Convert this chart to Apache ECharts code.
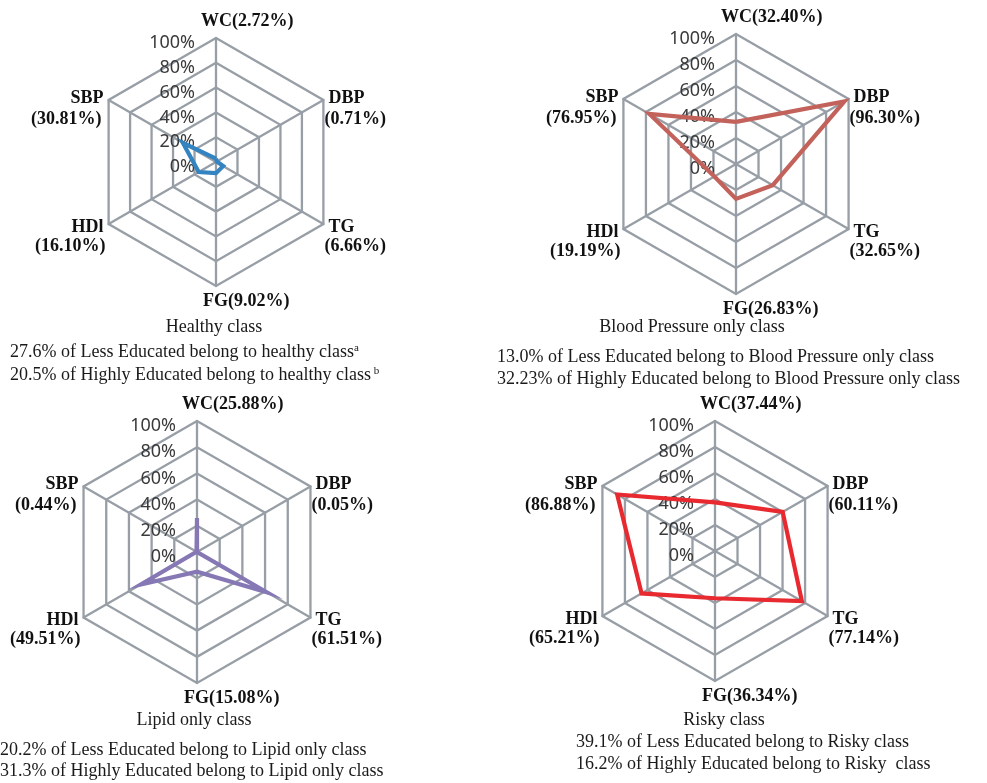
<!DOCTYPE html>
<html>
<head>
<meta charset="utf-8">
<script src="https://cdn.jsdelivr.net/npm/echarts@6/dist/echarts.min.js"></script>
<style>
  html, body { margin: 0; padding: 0; background: #ffffff; }
  #chart { width: 987px; height: 783px; }
</style>
</head>
<body>
<div id="chart"></div>
<script>
// Risk factors, listed clockwise starting from the top axis
const indicators = ['WC', 'DBP', 'TG', 'FG', 'HDl', 'SBP'];

// Share (%) of each risk factor within every latent class
const healthy   = [2.72, 0.71, 6.66, 9.02, 16.10, 30.81];
const bpOnly    = [32.40, 96.30, 32.65, 26.83, 19.19, 76.95];
const lipidOnly = [25.88, 0.05, 61.51, 15.08, 49.51, 0.44];
const risky     = [37.44, 60.11, 77.14, 36.34, 65.21, 86.88];

// Radial scale
const tickValues = [0, 20, 40, 60, 80, 100];

// Class captions
const classTitles = ['Healthy class', 'Blood Pressure only class', 'Lipid only class', 'Risky class'];
const lessEducated = [
  '27.6% of Less Educated belong to healthy class',
  '13.0% of Less Educated belong to Blood Pressure only class',
  '20.2% of Less Educated belong to Lipid only class',
  '39.1% of Less Educated belong to Risky class'
];
const highlyEducated = [
  '20.5% of Highly Educated belong to healthy class',
  '32.23% of Highly Educated belong to Blood Pressure only class',
  '31.3% of Highly Educated belong to Lipid only class',
  '16.2% of Highly Educated belong to Risky  class'
];
const lessNote = ['a', '', '', ''];
const highNote = [' b', '', '', ''];

// Panel layout and styling
const panels = [
  { values: healthy,   color: '#3384c1', center: [216, 162], radius: 124,
    title: [214, 327], lines: [[10, 352], [10, 375]] },
  { values: bpOnly,    color: '#c3625b', center: [736, 164], radius: 130,
    title: [692, 327], lines: [[497, 357], [497, 379]] },
  { values: lipidOnly, color: '#8677b5', center: [197, 552], radius: 131,
    title: [194, 720], lines: [[0, 750], [0, 771]] },
  { values: risky,     color: '#e8292f', center: [715, 551], radius: 130,
    title: [724, 720], lines: [[576, 742], [576, 764]] }
];

const GRID = '#979ea6';
const NAME_FONT = 'bold 18px "Liberation Serif", "Times New Roman", serif';
const CAPTION_FONT = 'Liberation Serif';

// ECharts lays indicators out counter-clockwise, so walk the clockwise list backwards
const ccwOrder = [0, 5, 4, 3, 2, 1];

const radars = panels.map(p => ({
  center: p.center,
  radius: p.radius,
  startAngle: 90,
  splitNumber: tickValues.length - 1,
  shape: 'polygon',
  axisName: { show: false },
  splitArea: { show: false },
  splitLine: { lineStyle: { color: GRID, width: 2.3 } },
  axisLine: { lineStyle: { color: GRID, width: 2.3 } },
  axisTick: { show: false },
  axisLabel: { show: false },
  indicator: ccwOrder.map((k, j) => {
    const ind = { name: indicators[k], min: tickValues[0], max: tickValues[tickValues.length - 1] };
    if (j === 0) {
      // scale labels sit just below each ring on the top axis
      ind.axisLabel = {
        show: true,
        formatter: '{value}%',
        margin: 21,
        fontSize: 18,
        fontFamily: 'Noto Sans',
        color: '#3a3a3a',
        verticalAlign: 'top',
        lineHeight: 10
      };
    }
    return ind;
  })
}));

const series = panels.map((p, i) => ({
  type: 'radar',
  radarIndex: i,
  symbol: 'none',
  silent: true,
  lineStyle: { color: p.color, width: 4.2, join: 'miter' },
  itemStyle: { color: p.color },
  areaStyle: { opacity: 0 },
  data: [{ value: ccwOrder.map(k => p.values[k]) }]
}));

// Indicator names with the share shown beside them
const graphic = [];
function txt(text, x, y, align, font, extra) {
  graphic.push(Object.assign({
    type: 'text', x: x, y: y, silent: true,
    style: { text: text, font: font, fill: '#111', align: align, verticalAlign: 'middle' }
  }, extra || {}));
}

panels.forEach((p, pi) => {
  const [cx, cy] = p.center;
  const r = p.radius;
  indicators.forEach((name, i) => {
    const th = (90 - i * 60) * Math.PI / 180;
    const vx = cx + r * Math.cos(th);
    const vy = cy - r * Math.sin(th);
    const pct = '(' + p.values[i].toFixed(2) + '%)';
    if (i === 0) {
      txt(name + pct, vx - 15, vy - 17, 'left', NAME_FONT);
    } else if (i === 3) {
      txt(name + pct, vx - 13, vy + 15, 'left', NAME_FONT);
    } else if (i === 1) {
      txt(name, vx + 5, vy - 2, 'left', NAME_FONT);
      txt(pct, vx + 1, vy + 19, 'left', NAME_FONT);
    } else if (i === 2) {
      txt(name, vx + 5, vy + 3, 'left', NAME_FONT);
      txt(pct, vx + 1, vy + 22, 'left', NAME_FONT);
    } else if (i === 4) {
      txt(name, vx - 5, vy + 3, 'right', NAME_FONT);
      txt(pct, vx - 3, vy + 22, 'right', NAME_FONT);
    } else {
      txt(name, vx - 5, vy - 2, 'right', NAME_FONT);
      txt(pct, vx - 7, vy + 19, 'right', NAME_FONT);
    }
  });

  // Class title and education breakdown
  graphic.push({
    type: 'text', x: p.title[0], y: p.title[1], silent: true,
    style: { text: classTitles[pi], fontFamily: CAPTION_FONT, fontSize: 18,
             fill: '#1a1a1a', align: 'center', verticalAlign: 'middle' }
  });
  [[lessEducated[pi], lessNote[pi]], [highlyEducated[pi], highNote[pi]]].forEach((ln, li) => {
    const rich = {
      t: { fontFamily: CAPTION_FONT, fontSize: 18, fill: '#1a1a1a' },
      s: { fontFamily: CAPTION_FONT, fontSize: 11, fill: '#1a1a1a', verticalAlign: 'top', padding: [0, 0, 8, 0] }
    };
    graphic.push({
      type: 'text', x: p.lines[li][0], y: p.lines[li][1], silent: true,
      style: {
        text: '{t|' + ln[0] + '}' + (ln[1] ? '{s|' + ln[1] + '}' : ''),
        rich: rich, align: 'left', verticalAlign: 'middle'
      }
    });
  });
});

const chart = echarts.init(document.getElementById('chart'), null, { renderer: 'canvas' });
chart.setOption({
  animation: false,
  backgroundColor: '#ffffff',
  radar: radars,
  series: series,
  graphic: graphic
});
</script>
</body>
</html>
